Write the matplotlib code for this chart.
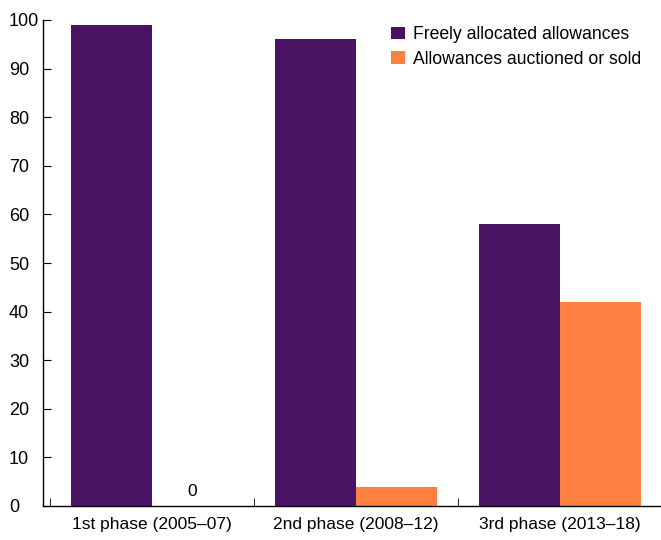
import matplotlib as mpl
import matplotlib.pyplot as plt
import numpy as np

PURPLE = "#4a1262"
ORANGE = "#ff8142"

mpl.rcParams.update({
    "font.family": ["Liberation Sans Narrow", "Liberation Sans", "DejaVu Sans"],
    "font.size": 12.5,
    "axes.linewidth": 1.0,
})

phases = ["1st phase (2005–07)", "2nd phase (2008–12)", "3rd phase (2013–18)"]
free_alloc = [99, 96, 58]
auctioned = [0, 4, 42]
series_names = ["Freely allocated allowances", "Allowances auctioned or sold"]

fig = plt.figure(figsize=(6.61, 5.40), dpi=100)
ax = fig.add_axes([43 / 661, 34 / 540, 618 / 661, 486 / 540])

x = np.arange(len(phases))
w = 0.397
ax.bar(x - w / 2, free_alloc, width=w, color=PURPLE, label=series_names[0])
ax.bar(x + w / 2, auctioned, width=w, color=ORANGE, label=series_names[1])

# zero-valued bar gets an explicit label
for xi, v in zip(x, auctioned):
    if v == 0:
        ax.text(xi + w / 2, 1.5, "0", ha="center", va="bottom", fontsize=12.5)

ax.set_xlim(-0.5 - 7 / 204, 2.5 - 1 / 204)
ax.set_ylim(0, 100)
ax.set_yticks(np.arange(0, 101, 10))
ax.tick_params(axis="y", direction="in", length=6, pad=24.5, labelsize=13)
for lab in ax.get_yticklabels():
    lab.set_horizontalalignment("left")

ax.set_xticks(x)
ax.set_xticklabels(phases)
ax.tick_params(axis="x", which="major", length=0, pad=8)
ax.set_xticks([-0.5, 0.5, 1.5], minor=True)
ax.tick_params(axis="x", which="minor", direction="in", length=6)

for s in ("top", "right"):
    ax.spines[s].set_visible(False)

ax.legend(loc="upper left", bbox_to_anchor=(0.538, 1.02), frameon=False,
          handlelength=0.75, handleheight=0.75, handletextpad=0.5,
          labelspacing=0.45, fontsize=12.7)

fig.savefig("out.png", dpi=100)
